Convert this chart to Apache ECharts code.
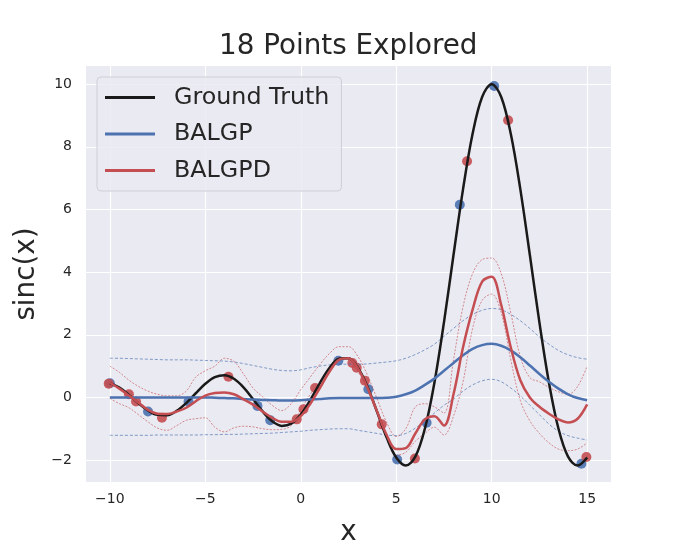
<!DOCTYPE html>
<html>
<head>
<meta charset="utf-8">
<script src="https://cdn.jsdelivr.net/npm/echarts@6/dist/echarts.min.js"></script>
<style>html,body{margin:0;padding:0;background:#fff}#c{width:679px;height:543px}</style>
</head>
<body>
<div id="c"></div>
<script>
// ---- data ----
const xs = [-10,-9.5,-9,-8.5,-8,-7.5,-7,-6.5,-6,-5.5,-5,-4.5,-4,-3.5,-3,-2.5,-2,-1.5,-1,-0.5,0,0.5,1,1.5,2,2.5,3,3.5,4,4.5,5,5.5,6,6.5,7,7.5,8,8.5,9,9.5,10,10.5,11,11.5,12,12.5,13,13.5,14,14.5,15];
const groundTruth = [0.456,0.311,0.079,-0.185,-0.417,-0.557,-0.566,-0.431,-0.180,0.133,0.434,0.645,0.708,0.595,0.323,-0.053,-0.447,-0.761,-0.909,-0.838,-0.544,-0.079,0.458,0.939,1.237,1.251,0.939,0.331,-0.466,-1.283,-1.918,-2.172,-1.892,-1.002,0.470,2.394,4.546,6.650,8.415,9.589,10.0,9.589,8.415,6.650,4.546,2.394,0.470,-1.002,-1.892,-2.172,-1.918];
const balgpMean = [0,0,0,0,0,0,0,0,0,0,0,-0.01,-0.02,-0.03,-0.05,-0.07,-0.08,-0.09,-0.1,-0.1,-0.09,-0.07,-0.05,-0.03,-0.02,-0.02,-0.02,-0.02,-0.02,-0.01,0.02,0.1,0.22,0.4,0.6,0.85,1.1,1.35,1.55,1.67,1.71,1.65,1.5,1.28,1.02,0.75,0.5,0.28,0.1,-0.02,-0.09];
const balgpUpper = [1.25,1.25,1.24,1.23,1.22,1.21,1.2,1.2,1.2,1.19,1.18,1.17,1.16,1.13,1.08,1.02,0.96,0.9,0.86,0.85,0.88,0.95,1.0,1.04,1.06,1.06,1.06,1.07,1.1,1.13,1.17,1.25,1.37,1.52,1.7,1.95,2.2,2.45,2.65,2.78,2.84,2.8,2.65,2.45,2.2,1.93,1.7,1.5,1.36,1.27,1.22];
const balgpLower = [-1.21,-1.21,-1.21,-1.21,-1.21,-1.2,-1.2,-1.2,-1.2,-1.2,-1.19,-1.19,-1.18,-1.18,-1.17,-1.16,-1.15,-1.14,-1.12,-1.1,-1.08,-1.05,-1.03,-1.01,-1.0,-1.0,-1.05,-1.1,-1.15,-1.2,-1.22,-1.15,-0.98,-0.75,-0.5,-0.25,-0.05,0.2,0.4,0.53,0.58,0.5,0.3,0.05,-0.25,-0.55,-0.85,-1.08,-1.22,-1.3,-1.36];
const balgpdMean = [0.47,0.28,0.06,-0.17,-0.4,-0.52,-0.53,-0.45,-0.33,-0.12,0.06,0.14,0.16,0.1,-0.06,-0.23,-0.45,-0.65,-0.78,-0.78,-0.6,-0.2,0.3,0.82,1.2,1.25,0.92,0.3,-0.45,-1.2,-1.65,-1.62,-1.15,-0.7,-0.6,-0.9,0.1,1.6,2.8,3.7,3.85,2.95,1.6,0.55,0.0,-0.3,-0.52,-0.7,-0.8,-0.68,-0.22];
const balgpdUpper = [1.0,0.8,0.55,0.35,0.2,0.1,0.05,0.05,0.2,0.65,0.85,1.0,1.25,1.15,0.75,0.3,0.02,-0.25,-0.42,-0.2,0.25,0.65,1.05,1.4,1.62,1.62,1.3,0.7,-0.05,-0.8,-1.25,-1.0,-0.3,-0.2,-0.3,-0.5,1.2,2.9,3.95,4.4,4.45,3.95,2.7,1.3,0.63,0.5,0.32,0.18,0.1,0.35,1.0];
const balgpdLower = [-0.03,-0.2,-0.33,-0.55,-0.78,-0.98,-1.05,-0.9,-0.73,-0.68,-0.65,-0.95,-1.1,-0.97,-0.92,-0.94,-1.0,-1.03,-1.02,-0.9,-0.4,0.1,0.5,0.95,1.28,1.2,0.8,0.35,-0.5,-1.3,-1.85,-1.75,-1.4,-1.15,-0.95,-1.2,-0.6,0.5,2.2,3.1,3.3,2.7,1.2,-0.1,-0.75,-1.15,-1.45,-1.65,-1.7,-1.65,-1.45];
const balgpPtsX = [-10.0,-8.0,-5.88,-2.27,-1.6,1.97,3.54,5.05,6.59,8.33,10.13,14.7];
const balgpPtsY = [0.45,-0.45,-0.13,-0.27,-0.73,1.17,0.26,-1.98,-0.81,6.15,9.94,-2.12];
const balgpdPtsX = [-10.06,-9.0,-8.63,-7.27,-3.79,-0.21,0.14,0.75,2.7,2.93,3.36,4.24,5.98,8.71,10.86,14.96];
const balgpdPtsY = [0.44,0.1,-0.13,-0.65,0.66,-0.7,-0.38,0.3,1.1,0.95,0.53,-0.86,-1.95,7.54,8.85,-1.9];
const xTicks = [-10,-5,0,5,10,15];
const yTicks = [-2,0,2,4,6,8,10];

const BLUE = '#4C72B0', RED = '#C44E52', BLACK = '#1a1a1a', TXT = '#262626';
const FONT = 'DejaVu Sans';
const pairs = (a, b) => a.map((v, i) => [v, b[i]]);
const minus = v => String(v).replace('-', '\u2212');

const lineSeries = (name, ys, color, width, type, opacity, z) => ({
  name, type: 'line', data: pairs(xs, ys), smooth: 0.35, showSymbol: false, symbol: 'none',
  lineStyle: { color, width, type, opacity }, itemStyle: { color }, z, silent: true, animation: false
});

const chart = echarts.init(document.getElementById('c'), null, { renderer: 'canvas' });
chart.setOption({
  animation: false,
  backgroundColor: '#ffffff',
  title: {
    text: '18 Points Explored', left: 219, top: 33, padding: 0,
    textStyle: { fontFamily: FONT, fontSize: 27.8, fontWeight: 'normal', color: TXT }
  },
  grid: { left: 86, top: 66, width: 525, height: 416, show: true, backgroundColor: '#EAEAF2', borderWidth: 0,
          containLabel: false, outerBoundsMode: 'none' },
  xAxis: {
    type: 'value', min: -11.25, max: 16.25,
    name: 'x', nameLocation: 'middle', nameGap: 37,
    nameTextStyle: { fontFamily: FONT, fontSize: 27.8, color: TXT },
    axisLine: { show: false }, axisTick: { show: false, customValues: xTicks },
    axisLabel: { customValues: xTicks, formatter: minus, fontFamily: FONT, fontSize: 14, color: TXT, margin: 10 },
    splitLine: { show: true, lineStyle: { color: '#ffffff', width: 1.1 } }
  },
  yAxis: {
    type: 'value', min: -2.7, max: 10.58,
    name: 'sinc(x)', nameLocation: 'middle', nameGap: 36,
    nameTextStyle: { fontFamily: FONT, fontSize: 27.8, color: TXT },
    axisLine: { show: false }, axisTick: { show: false, customValues: yTicks },
    axisLabel: { customValues: yTicks, formatter: minus, fontFamily: FONT, fontSize: 14, color: TXT, margin: 14 },
    splitLine: { show: true, lineStyle: { color: '#ffffff', width: 1.1 } }
  },
  legend: {
    orient: 'vertical', left: 97, top: 77, padding: [7, 12, 7, 8],
    backgroundColor: 'rgba(234,234,242,0.85)', borderColor: '#cfcfd6', borderWidth: 1, borderRadius: 4,
    itemWidth: 50, itemHeight: 3, itemGap: 9.5, icon: 'rect',
    textStyle: { fontFamily: FONT, fontSize: 23.8, color: TXT, lineHeight: 27, padding: [0, 0, 0, 14] },
    data: [
      { name: 'Ground Truth', itemStyle: { color: BLACK } },
      { name: 'BALGP', itemStyle: { color: BLUE } },
      { name: 'BALGPD', itemStyle: { color: RED } }
    ]
  },
  series: [
    { name: 'BALGP points', type: 'scatter', data: pairs(balgpPtsX, balgpPtsY), symbolSize: 10,
      itemStyle: { color: BLUE, opacity: 0.9 }, z: 1, silent: true },
    { name: 'BALGPD points', type: 'scatter', data: pairs(balgpdPtsX, balgpdPtsY), symbolSize: 10,
      itemStyle: { color: RED, opacity: 0.9 }, z: 1, silent: true },
    lineSeries('BALGP upper', balgpUpper, BLUE, 0.8, [3, 2], 0.85, 2),
    lineSeries('BALGP lower', balgpLower, BLUE, 0.8, [3, 2], 0.85, 2),
    lineSeries('BALGPD upper', balgpdUpper, RED, 0.8, [2, 1.5], 0.8, 2),
    lineSeries('BALGPD lower', balgpdLower, RED, 0.8, [2, 1.5], 0.8, 2),
    lineSeries('Ground Truth', groundTruth, BLACK, 2.5, 'solid', 1, 3),
    lineSeries('BALGP', balgpMean, BLUE, 2.5, 'solid', 1, 4),
    lineSeries('BALGPD', balgpdMean, RED, 2.5, 'solid', 1, 5)
  ]
});
</script>
</body>
</html>
